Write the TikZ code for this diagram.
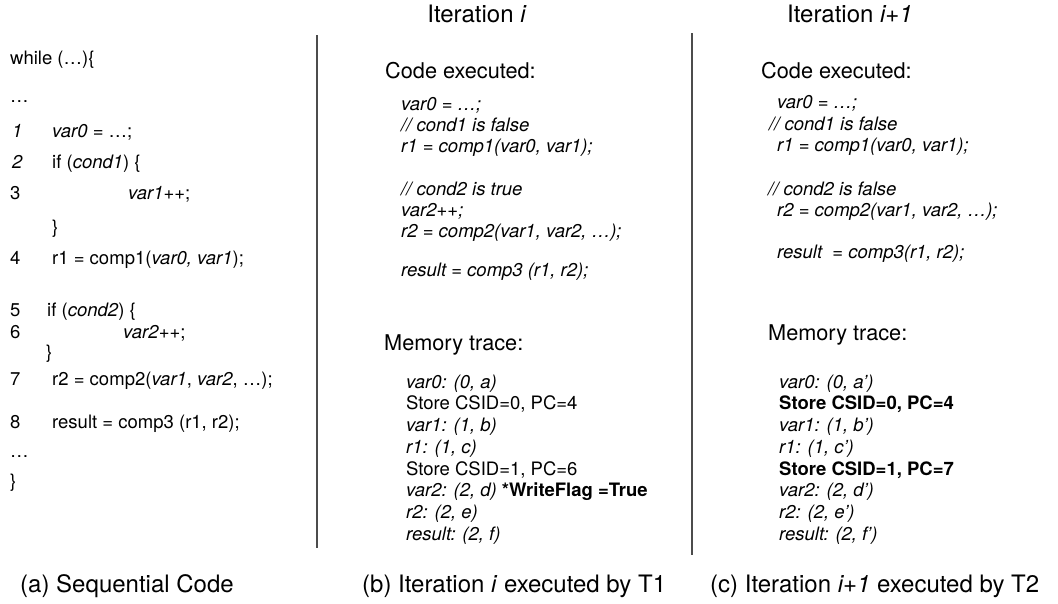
\documentclass[tikz,border=0pt]{standalone}
\usepackage{fontspec}
\setmainfont{TeX Gyre Heros}
\begin{document}
\begin{tikzpicture}[x=1pt,y=-1pt]
\tikzset{
 txt/.style={anchor=base west, inner sep=0pt, font=\fontsize{18.5}{22}\selectfont},
 hdr/.style={anchor=base west, inner sep=0pt, font=\fontsize{21.7}{26}\selectfont},
 capt/.style={anchor=base west, inner sep=0pt, font=\fontsize{24}{28}\selectfont},
 ttl/.style={anchor=base, inner sep=0pt, font=\fontsize{24}{28}\selectfont},
 sepline/.style={draw=black!70, line width=1.3pt}
}
\useasboundingbox (0,0) rectangle (1058,603);
% separators
\coordinate (s1t) at (317,35);
\coordinate (s1b) at (317,548);
\coordinate (s2t) at (692,33);
\coordinate (s2b) at (692,555);
\draw[sepline] (s1t) -- (s1b);
\draw[sepline] (s2t) -- (s2b);
% titles
\node[ttl] (t1) at (477,22) {Iteration \textit{i}};
\node[ttl] (t2) at (850,22) {Iteration \textit{i+1}};
% column a
\node[txt] (a0) at (10,64) {while (…)\{};
\node[txt] (a1) at (10,102) {…};
\node[txt] (n1) at (12,137) {\textit{1}};
\node[txt] (l1) at (52,137) {\textit{var0} = …;};
\node[txt] (n2) at (12,168) {\textit{2}};
\node[txt] (l2) at (52,168) {if (\textit{cond1}) \{};
\node[txt] (n3) at (10,199) {3};
\node[txt] (l3) at (128,199) {\textit{var1}++;};
\node[txt] (l3b) at (52,233) {\}};
\node[txt] (n4) at (10,264) {4};
\node[txt] (l4) at (52,264) {r1 = comp1(\textit{var0, var1});};
\node[txt] (n5) at (10,316) {5};
\node[txt] (l5) at (47,316) {if (\textit{cond2}) \{};
\node[txt] (n6) at (10,338) {6};
\node[txt] (l6) at (123,338) {\textit{var2}++;};
\node[txt] (l6b) at (46,358) {\}};
\node[txt] (n7) at (10,385) {7};
\node[txt] (l7) at (52,385) {r2 = comp2(\textit{var1}, \textit{var2}, …);};
\node[txt] (n8) at (10,428) {8};
\node[txt] (l8) at (52,428) {result = comp3 (r1, r2);};
\node[txt] (a9) at (10,457) {…};
\node[txt] (a10) at (10,487) {\}};
% column b
\node[hdr] (bh1) at (385,78) {Code executed:};
\node[txt] (b1) at (401,110) {\textit{var0 = …;}};
\node[txt] (b2) at (401,131) {\textit{// cond1 is false}};
\node[txt] (b3) at (401,152) {\textit{r1 = comp1(var0, var1);}};
\node[txt] (b4) at (401,195) {\textit{// cond2 is true}};
\node[txt] (b5) at (401,216) {\textit{var2++;}};
\node[txt] (b6) at (401,237) {\textit{r2 = comp2(var1, var2, …);}};
\node[txt] (b7) at (401,276) {\textit{result = comp3 (r1, r2);}};
\node[hdr] (bh2) at (384,350) {Memory trace:};
\node[txt] (m1) at (406,388) {\textit{var0: (0, a)}};
\node[txt] (m2) at (406,409) {Store CSID=0, PC=4};
\node[txt] (m3) at (406,431) {\textit{var1: (1, b)}};
\node[txt] (m4) at (406,453) {\textit{r1: (1, c)}};
\node[txt] (m5) at (406,475) {Store CSID=1, PC=6};
\node[txt] (m6) at (406,496) {\textit{var2: (2, d)} \textbf{*WriteFlag =True}};
\node[txt] (m7) at (406,518) {\textit{r2: (2, e)}};
\node[txt] (m8) at (406,540) {\textit{result: (2, f)}};
% column c
\node[hdr] (ch1) at (761,78) {Code executed:};
\node[txt] (c1) at (777,108) {\textit{var0 = …;}};
\node[txt] (c2) at (769,130) {\textit{// cond1 is false}};
\node[txt] (c3) at (777,151) {\textit{r1 = comp1(var0, var1);}};
\node[txt] (c4) at (768,195) {\textit{// cond2 is false}};
\node[txt] (c5) at (777,216) {\textit{r2 = comp2(var1, var2, …);}};
\node[txt] (c6) at (777,258) {\textit{result\ \ = comp3(r1, r2);}};
\node[hdr] (ch2) at (768,340) {Memory trace:};
\node[txt] (p1) at (779,388) {\textit{var0: (0, a’)}};
\node[txt] (p2) at (779,409) {\textbf{Store CSID=0, PC=4}};
\node[txt] (p3) at (779,431) {\textit{var1: (1, b’)}};
\node[txt] (p4) at (779,453) {\textit{r1: (1, c’)}};
\node[txt] (p5) at (779,475) {\textbf{Store CSID=1, PC=7}};
\node[txt] (p6) at (779,496) {\textit{var2: (2, d’)}};
\node[txt] (p7) at (779,518) {\textit{r2: (2, e’)}};
\node[txt] (p8) at (779,540) {\textit{result: (2, f’)}};
% captions
\node[capt] (ca) at (20,592) {(a) Sequential Code};
\node[capt] (cb) at (362,592) {(b) Iteration \textit{i} executed by T1};
\node[capt] (cc) at (710,592) {(c) Iteration \textit{i+1} executed by T2};
\end{tikzpicture}
\end{document}
